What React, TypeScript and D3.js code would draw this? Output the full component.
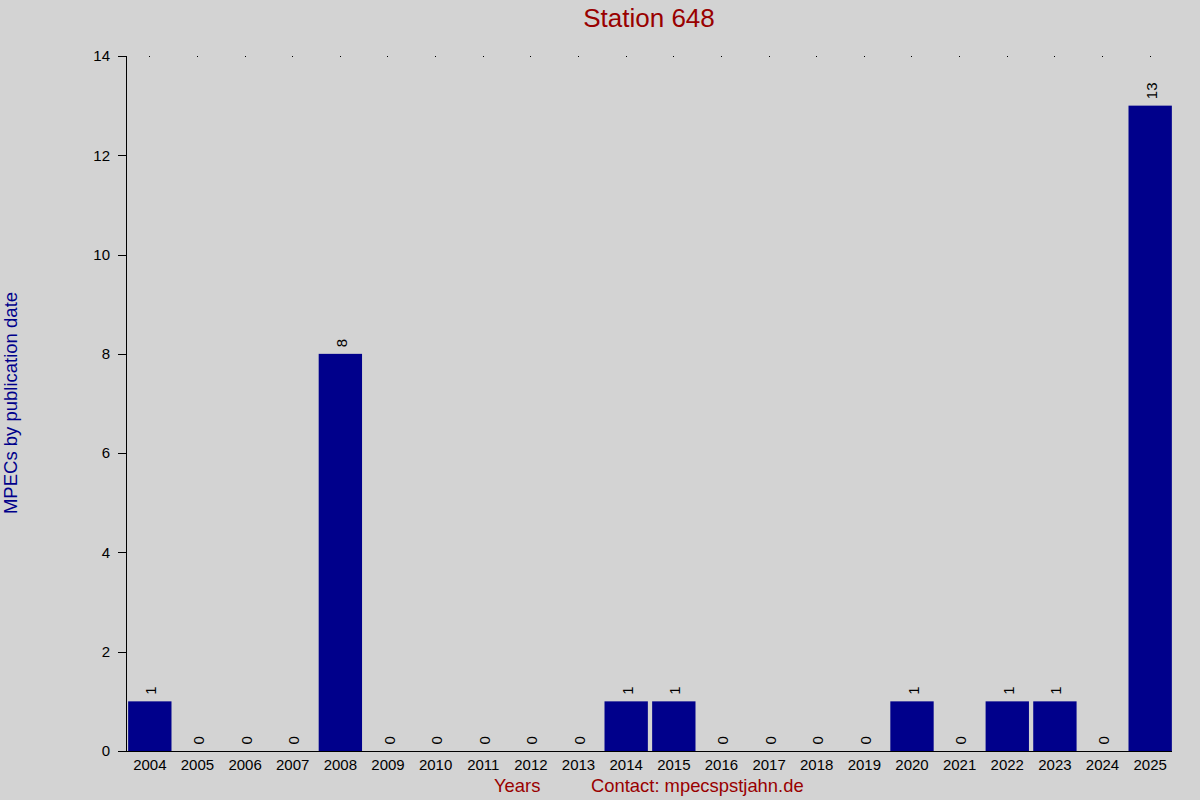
import React from "react";
import * as d3 from "d3";

const years = ["2004","2005","2006","2007","2008","2009","2010","2011","2012","2013","2014","2015","2016","2017","2018","2019","2020","2021","2022","2023","2024","2025"];
const counts = [1,0,0,0,8,0,0,0,0,0,1,1,0,0,0,0,1,0,1,1,0,13];
const yTicks = [0,2,4,6,8,10,12,14];
const title = "Station 648";
const yLabel = "MPECs by publication date";
const xLabel = "Years";
const contact = "Contact: mpecspstjahn.de";

const W = 1200, H = 800;
const FONT = "'Liberation Sans', Arial, sans-serif";

export default function App() {
  const x = d3.scaleBand<string>().domain(years).range([126, 1174]).paddingInner(0.09).paddingOuter(0.045);
  const y = d3.scaleLinear().domain([0, 14]).range([751, 56]);
  const bw = x.bandwidth();
  return (
    <svg width={W} height={H} style={{ position: "absolute", left: 0, top: 0, display: "block" }} fontFamily={FONT}>
      <rect x={0} y={0} width={W} height={H} fill="#d3d3d3" />
      <text x={649} y={27} textAnchor="middle" fontSize={26} fill="#990000">{title}</text>
      {/* top dots */}
      {years.map((yr) => (
        <rect key={"d" + yr} x={Math.floor((x(yr) as number) + bw / 2)} y={56} width={1} height={1} fill="#000" shapeRendering="crispEdges" />
      ))}
      {/* bars */}
      {years.map((yr, i) => (
        <rect key={"b" + yr} x={x(yr)} y={y(counts[i])} width={bw} height={751 - y(counts[i])} fill="#00008b" />
      ))}
      {/* value labels */}
      {years.map((yr, i) => {
        const cx = (x(yr) as number) + bw / 2;
        const ty = y(counts[i]) - 6.5;
        return (
          <text key={"v" + yr} transform={`translate(${cx},${ty}) rotate(-90)`} dy={6.5} fontSize={15} fill="#000" textAnchor="start">{counts[i]}</text>
        );
      })}
      {/* y axis */}
      <line x1={126.5} x2={126.5} y1={56} y2={751.5} stroke="#000" strokeWidth={1} />
      {yTicks.map((t) => (
        <g key={"t" + t}>
          <line x1={118} x2={126} y1={Math.round(y(t)) + 0.5} y2={Math.round(y(t)) + 0.5} stroke="#000" />
          <text x={110} y={y(t)} dy="0.35em" textAnchor="end" fontSize={15} fill="#000">{t}</text>
        </g>
      ))}
      {/* x axis */}
      <line x1={118} x2={1172} y1={751.5} y2={751.5} stroke="#000" strokeWidth={1} />
      {years.map((yr) => (
        <text key={"x" + yr} x={(x(yr) as number) + bw / 2} y={770} textAnchor="middle" fontSize={15} fill="#000">{yr}</text>
      ))}
      <text x={494} y={792} fontSize={18.4} fill="#990000">{xLabel}</text>
      <text x={591} y={792} fontSize={18.4} fill="#990000">{contact}</text>
      <text transform="translate(17,403) rotate(-90)" textAnchor="middle" fontSize={18.5} fill="#00008b">{yLabel}</text>
    </svg>
  );
}
